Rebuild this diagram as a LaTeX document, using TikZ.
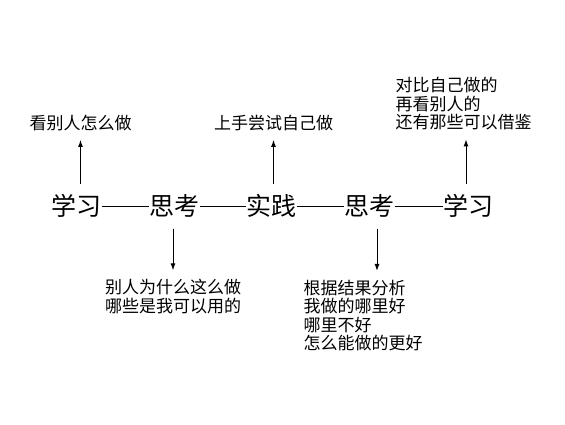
\documentclass[tikz,border=0pt]{standalone}
\usepackage{fontspec}
\newfontfamily\cjk{Noto Sans CJK SC}
\usetikzlibrary{arrows.meta}

\begin{document}
\begin{tikzpicture}[x=1pt,y=-1pt,line width=1pt,
    stage/.style={font={\cjk\fontsize{25}{25}\selectfont}, inner xsep=0pt, minimum height=44pt},
    note/.style={font={\cjk\fontsize{17}{18.5}\selectfont}, align=left, inner xsep=0pt, inner ysep=8.5pt},
    arr/.style={-{Latex[length=7pt,width=5pt]}}]
    \useasboundingbox (0,0) rectangle (565,424);
    % main chain
    \foreach \n/\x/\t in {xx1/76/学习, sk1/174.5/思考, sj/271/实践, sk2/369/思考, xx2/468/学习}
        \node[stage] (\n) at (\x,206) {\t};
    \foreach \a/\b in {xx1/sk1, sk1/sj, sj/sk2, sk2/xx2}
        \draw (\a) -- (\b);
    % notes above
    \node[note] (kan) at (80.5,123) {看别人怎么做};
    \node[note] (shang) at (273.5,123) {上手尝试自己做};
    \node[note, anchor=west] (duibi) at (395,104) {对比自己做的\\再看别人的\\还有那些可以借鉴};
    \draw[arr] (xx1.north -| kan) -- (kan.south);
    \draw[arr] (sj.north -| shang) -- (shang.south);
    \coordinate (up3) at (466,0);
    \draw[arr] (xx2.north -| up3) -- (duibi.south -| up3);
    % notes below
    \node[note] (bieren) at (173,296.5) {别人为什么这么做\\哪些是我可以用的};
    \node[note, anchor=west] (genju) at (303,315.5) {根据结果分析\\我做的哪里好\\哪里不好\\怎么能做的更好};
    \draw[arr] (sk1.south -| bieren) -- (bieren.north);
    \coordinate (dn2) at (377,0);
    \draw[arr] (sk2.south -| dn2) -- (genju.north -| dn2);
\end{tikzpicture}
\end{document}
